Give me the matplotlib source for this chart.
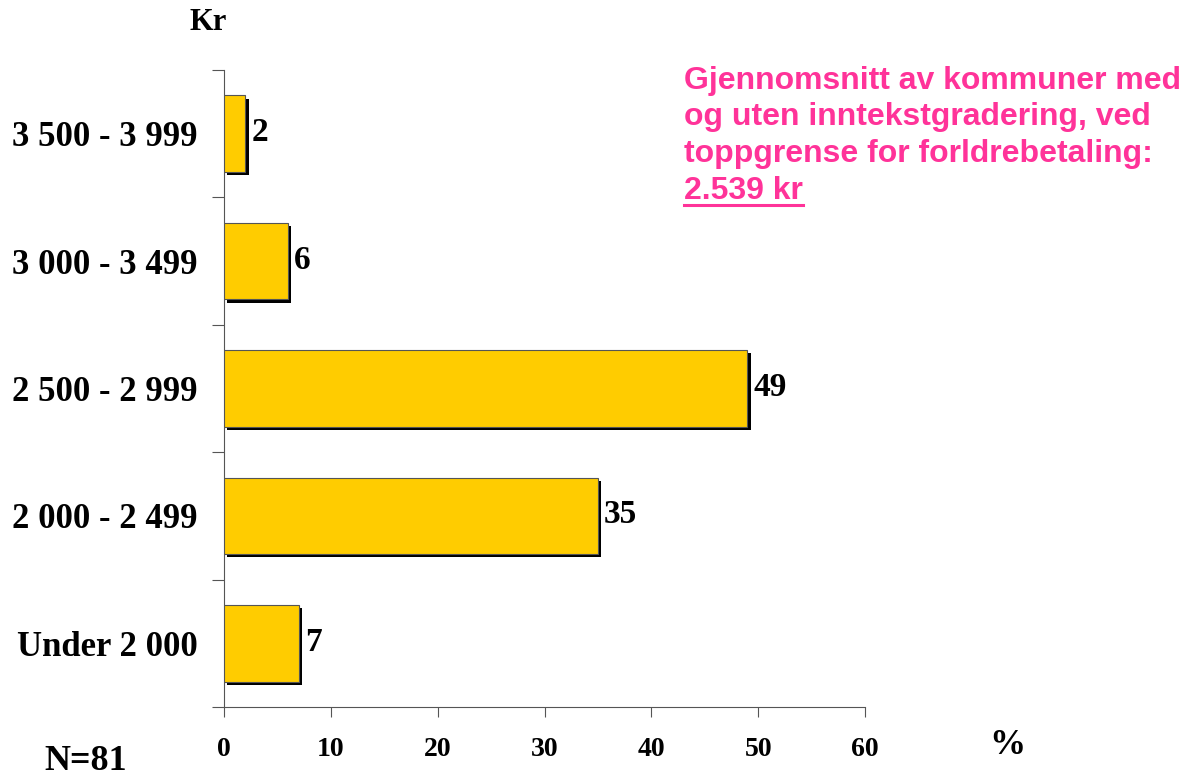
import matplotlib
matplotlib.use("Agg")
import matplotlib.pyplot as plt
import matplotlib.patheffects as pe
from matplotlib.ticker import FixedLocator

categories = ["Under 2 000", "2 000 - 2 499", "2 500 - 2 999", "3 000 - 3 499", "3 500 - 3 999"]
values = [7, 35, 49, 6, 2]
xticks = [0, 10, 20, 30, 40, 50, 60]

serif = ["Liberation Serif", "DejaVu Serif"]
sans = ["Liberation Sans", "DejaVu Sans"]

fig = plt.figure(figsize=(11.95, 7.77), dpi=100)
ax = fig.add_axes([224/1195, 1-707/777, (865-224)/1195, (707-70)/777])

ypos = list(range(len(categories)))
bars = ax.barh(ypos, values, height=0.6, color="#FFCC00", edgecolor="#555555", linewidth=0.8,
               path_effects=[pe.SimplePatchShadow(offset=(2.3, -2.3), shadow_rgbFace="black", alpha=1.0),
                             pe.Normal()], zorder=3)

for y, v in zip(ypos, values):
    ax.annotate(str(v), xy=(v, y), xytext=(6, 1), textcoords="offset pixels",
                ha="left", va="center", fontsize=24, fontweight="bold", family=serif)

ax.set_xlim(0, 60)
ax.set_ylim(-0.5, len(categories) - 0.5)
ax.set_xticks(xticks)
ax.set_xticklabels([str(t) for t in xticks], fontsize=20, fontweight="bold", family=serif)
ax.set_yticks(ypos)
ax.set_yticklabels(categories, fontsize=25, fontweight="bold", family=serif)
ax.yaxis.set_minor_locator(FixedLocator([i - 0.5 for i in range(len(categories) + 1)]))
ax.tick_params(axis="y", which="major", length=0, pad=19)
ax.tick_params(axis="y", which="minor", length=8.5, width=0.8, color="#555555", direction="out")
ax.tick_params(axis="x", which="major", length=7.5, width=0.8, color="#555555", pad=14)

for s in ["top", "right"]:
    ax.spines[s].set_visible(False)
for s in ["left", "bottom"]:
    ax.spines[s].set_color("#555555")
    ax.spines[s].set_linewidth(0.8)

fig.text(208/1195, 1-22/777, "Kr", fontsize=22, fontweight="bold", family=serif, ha="center", va="center")
fig.text(1007/1195, 1-746/777, "%", fontsize=26, fontweight="bold", family=serif, ha="center", va="center")
fig.text(86/1195, 1-761/777, "N=81", fontsize=26, fontweight="bold", family=serif, ha="center", va="center")

pink = "#FF3399"
lines = ["Gjennomsnitt av kommuner med", "og uten inntekstgradering, ved", "toppgrense for forldrebetaling:"]
ys = [81, 117, 154]
for t, y in zip(lines, ys):
    fig.text(684/1195, 1-y/777, t, fontsize=23, fontweight="bold", family=sans, color=pink,
             ha="left", va="center")
t4 = fig.text(684/1195, 1-191/777, "2.539 kr", fontsize=23, fontweight="bold", family=sans, color=pink,
              ha="left", va="center")
fig.canvas.draw()
bb = t4.get_window_extent().transformed(fig.transFigure.inverted())
uy = bb.y0 + 1/777
fig.add_artist(plt.Line2D([bb.x0, bb.x1], [uy, uy], color=pink, linewidth=2.2, transform=fig.transFigure))

fig.savefig("out.png", dpi=100)
